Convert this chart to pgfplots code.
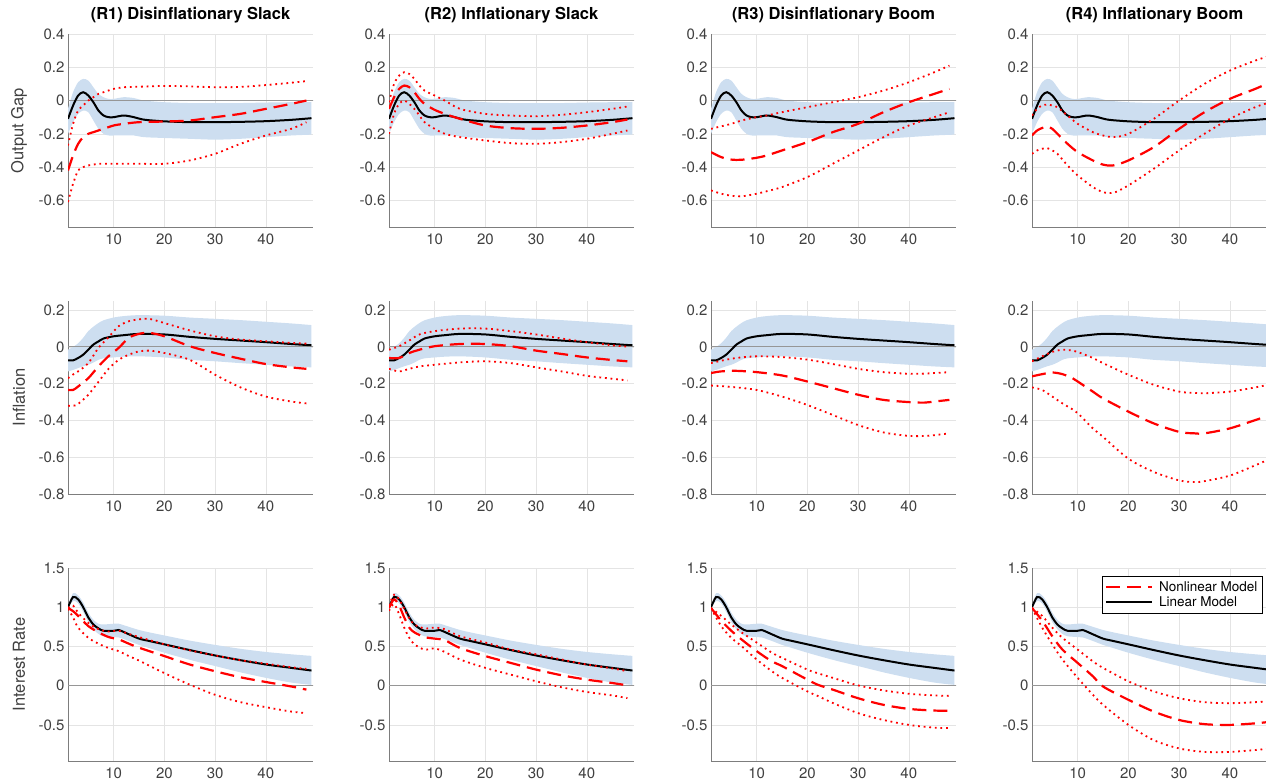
\documentclass[border=0pt]{standalone}
\usepackage{pgfplots}
\pgfplotsset{compat=1.18}
\usepackage{pgfplotstable}
\usepgfplotslibrary{fillbetween}
\usepackage{fontspec}
\setmainfont{TeX Gyre Heros}
\definecolor{bandblue}{RGB}{205,222,240}
\definecolor{tickgray}{RGB}{64,64,64}
\definecolor{axgray}{RGB}{125,125,125}
\definecolor{gridgray}{RGB}{228,228,228}
\definecolor{zerogray}{RGB}{150,150,150}

% ---------- linear model (same in every column) ----------
\pgfplotstableread{
x mid up lo
1 -0.11 -0.05 -0.20
2 -0.03 0.05 -0.13
3 0.03 0.11 -0.08
4 0.05 0.13 -0.06
5 0.03 0.12 -0.07
6 -0.01 0.08 -0.12
7 -0.06 0.04 -0.17
8 -0.09 0.02 -0.20
9 -0.10 0.01 -0.21
10 -0.10 0.01 -0.21
12 -0.09 0.02 -0.21
14 -0.10 0.015 -0.21
16 -0.115 0.0 -0.22
20 -0.125 -0.01 -0.225
25 -0.13 -0.015 -0.23
30 -0.13 -0.015 -0.235
35 -0.128 -0.015 -0.23
40 -0.124 -0.012 -0.22
45 -0.116 -0.01 -0.21
49 -0.106 -0.01 -0.205
}\linA
\pgfplotstableread{
x mid up lo
1 -0.073 -0.015 -0.133
2 -0.073 0.0 -0.125
3 -0.06 0.02 -0.115
4 -0.042 0.05 -0.105
5 -0.015 0.086 -0.097
6 0.013 0.11 -0.085
7 0.03 0.13 -0.07
8 0.046 0.145 -0.062
10 0.058 0.16 -0.057
12 0.064 0.168 -0.053
15 0.071 0.173 -0.051
20 0.068 0.17 -0.057
25 0.055 0.16 -0.07
30 0.044 0.153 -0.078
35 0.035 0.146 -0.088
40 0.026 0.137 -0.097
45 0.016 0.128 -0.106
49 0.009 0.119 -0.111
}\linB
\pgfplotstableread{
x mid up lo
1 1.00 1.02 0.98
2 1.13 1.18 1.08
3 1.10 1.15 1.05
4 1.00 1.06 0.94
5 0.87 0.93 0.81
6 0.78 0.84 0.72
7 0.73 0.79 0.66
8 0.70 0.78 0.63
10 0.70 0.79 0.62
11 0.71 0.79 0.615
13 0.655 0.75 0.57
15 0.60 0.71 0.52
17 0.57 0.68 0.48
20 0.527 0.64 0.42
25 0.454 0.575 0.33
30 0.385 0.52 0.25
35 0.325 0.47 0.17
40 0.27 0.43 0.10
45 0.227 0.40 0.04
49 0.193 0.38 0.01
}\linC

% ---------- nonlinear model: output gap ----------
\pgfplotstableread{
x dash up lo
1 -0.42 -0.27 -0.61
2 -0.33 -0.14 -0.50
3 -0.26 -0.06 -0.42
4 -0.22 -0.03 -0.40
5 -0.20 0.00 -0.39
6 -0.19 0.02 -0.385
7 -0.18 0.04 -0.38
8 -0.17 0.05 -0.38
10 -0.15 0.07 -0.38
12 -0.14 0.08 -0.38
15 -0.13 0.083 -0.38
20 -0.126 0.088 -0.38
25 -0.12 0.085 -0.36
30 -0.10 0.08 -0.32
35 -0.08 0.082 -0.26
40 -0.05 0.093 -0.21
45 -0.02 0.107 -0.17
48 0.0 0.117 -0.13
}\ogA
\pgfplotstableread{
x dash up lo
1 -0.05 -0.01 -0.20
2 0.02 0.10 -0.08
3 0.07 0.15 -0.02
4 0.09 0.17 0.0
5 0.08 0.16 -0.02
6 0.05 0.13 -0.05
7 0.01 0.09 -0.09
8 -0.02 0.06 -0.13
10 -0.056 0.03 -0.17
12 -0.08 0.0 -0.20
15 -0.11 -0.05 -0.22
20 -0.15 -0.08 -0.24
25 -0.166 -0.09 -0.256
30 -0.17 -0.094 -0.26
35 -0.164 -0.086 -0.25
40 -0.15 -0.07 -0.23
45 -0.13 -0.05 -0.20
48 -0.114 -0.036 -0.18
}\ogB
\pgfplotstableread{
x dash up lo
1 -0.31 -0.17 -0.54
3 -0.34 -0.155 -0.56
5 -0.355 -0.14 -0.572
7 -0.356 -0.12 -0.576
10 -0.344 -0.10 -0.56
12 -0.33 -0.09 -0.545
15 -0.30 -0.07 -0.52
20 -0.25 -0.04 -0.46
25 -0.19 -0.01 -0.38
30 -0.14 0.02 -0.30
35 -0.07 0.06 -0.22
40 -0.01 0.11 -0.15
45 0.04 0.17 -0.10
48 0.07 0.21 -0.07
}\ogC
\pgfplotstableread{
x dash up lo
1 -0.21 -0.09 -0.32
2 -0.18 -0.05 -0.30
3 -0.165 -0.03 -0.29
4 -0.156 -0.024 -0.286
5 -0.17 -0.03 -0.30
6 -0.20 -0.04 -0.32
8 -0.26 -0.09 -0.39
10 -0.31 -0.14 -0.45
13 -0.36 -0.19 -0.52
15 -0.385 -0.21 -0.55
17 -0.39 -0.22 -0.555
20 -0.36 -0.20 -0.51
25 -0.28 -0.11 -0.41
30 -0.17 0.0 -0.30
35 -0.07 0.10 -0.20
40 0.01 0.18 -0.11
45 0.07 0.24 -0.04
48 0.11 0.27 -0.01
}\ogD

% ---------- nonlinear model: inflation ----------
\pgfplotstableread{
x dash up lo
1 -0.234 -0.17 -0.32
2 -0.234 -0.15 -0.32
3 -0.215 -0.133 -0.31
5 -0.17 -0.088 -0.26
7 -0.106 -0.005 -0.19
9 -0.05 0.053 -0.119
11 -0.005 0.113 -0.07
13 0.05 0.14 -0.042
15 0.071 0.15 -0.024
17 0.077 0.153 -0.02
20 0.058 0.13 -0.033
25 0.004 0.09 -0.07
30 -0.033 0.058 -0.151
35 -0.064 0.04 -0.22
40 -0.093 0.031 -0.27
45 -0.111 0.022 -0.297
48 -0.119 0.018 -0.307
}\inA
\pgfplotstableread{
x dash up lo
1 -0.06 -0.015 -0.119
3 -0.06 0.004 -0.133
5 -0.033 0.035 -0.119
7 -0.015 0.068 -0.106
10 0.004 0.086 -0.097
15 0.016 0.10 -0.084
20 0.016 0.10 -0.078
25 0.004 0.086 -0.088
30 -0.02 0.068 -0.111
35 -0.038 0.046 -0.133
40 -0.057 0.026 -0.157
45 -0.071 0.009 -0.173
48 -0.078 0.002 -0.182
}\inB
\pgfplotstableread{
x dash up lo
1 -0.142 -0.088 -0.21
3 -0.133 -0.075 -0.213
6 -0.13 -0.06 -0.22
10 -0.137 -0.051 -0.234
15 -0.155 -0.055 -0.27
20 -0.188 -0.069 -0.316
25 -0.224 -0.093 -0.37
30 -0.26 -0.119 -0.425
35 -0.288 -0.137 -0.465
40 -0.30 -0.146 -0.484
43 -0.303 -0.145 -0.484
45 -0.297 -0.142 -0.48
48 -0.288 -0.137 -0.47
}\inC
\pgfplotstableread{
x dash up lo
1 -0.16 -0.078 -0.22
3 -0.148 -0.051 -0.234
5 -0.139 -0.027 -0.27
7 -0.148 -0.015 -0.307
9 -0.17 -0.02 -0.34
10 -0.188 -0.027 -0.36
13 -0.243 -0.06 -0.443
15 -0.28 -0.088 -0.489
20 -0.352 -0.151 -0.608
25 -0.416 -0.206 -0.68
30 -0.462 -0.243 -0.726
33 -0.47 -0.25 -0.735
35 -0.47 -0.252 -0.73
40 -0.443 -0.243 -0.70
45 -0.398 -0.22 -0.644
48 -0.37 -0.203 -0.608
}\inD

% ---------- nonlinear model: interest rate ----------
\pgfplotstableread{
x dash up lo
1 0.99 0.99 0.98
2 0.95 1.02 0.87
3 0.89 0.93 0.74
5 0.76 0.80 0.61
7 0.68 0.72 0.535
9 0.62 0.69 0.48
11 0.59 0.70 0.44
13 0.535 0.66 0.377
15 0.484 0.62 0.32
20 0.377 0.527 0.16
25 0.27 0.45 0.013
30 0.184 0.385 -0.116
35 0.107 0.325 -0.21
40 0.047 0.28 -0.274
45 -0.01 0.235 -0.33
48 -0.05 0.214 -0.35
}\irA
\pgfplotstableread{
x dash up lo
1 0.99 1.02 0.955
2 1.10 1.16 1.04
3 1.02 1.10 0.91
4 0.87 0.98 0.74
5 0.74 0.86 0.61
6 0.68 0.78 0.527
8 0.62 0.73 0.46
10 0.60 0.74 0.475
12 0.58 0.72 0.43
15 0.48 0.63 0.334
20 0.377 0.55 0.227
25 0.29 0.46 0.141
30 0.205 0.40 0.056
35 0.133 0.334 -0.02
40 0.077 0.27 -0.08
45 0.034 0.22 -0.124
48 0.004 0.184 -0.158
}\irB
\pgfplotstableread{
x dash up lo
1 0.99 0.99 0.99
3 0.83 0.89 0.76
5 0.70 0.78 0.61
7 0.59 0.68 0.505
10 0.44 0.55 0.334
13 0.31 0.42 0.184
15 0.25 0.355 0.10
20 0.077 0.205 -0.073
22 0.013 0.16 -0.13
25 -0.05 0.10 -0.22
30 -0.16 0.004 -0.35
35 -0.244 -0.06 -0.437
40 -0.296 -0.103 -0.50
45 -0.317 -0.124 -0.535
48 -0.32 -0.13 -0.54
}\irC
\pgfplotstableread{
x dash up lo
1 0.99 0.99 0.99
3 0.83 0.89 0.74
5 0.63 0.74 0.527
7 0.46 0.61 0.334
10 0.29 0.46 0.10
13 0.12 0.31 -0.116
15 -0.01 0.227 -0.244
20 -0.18 0.056 -0.50
25 -0.33 -0.073 -0.694
30 -0.437 -0.16 -0.80
35 -0.49 -0.21 -0.844
40 -0.50 -0.223 -0.844
45 -0.48 -0.21 -0.82
48 -0.46 -0.20 -0.80
}\irD

\pgfplotsset{
  irf/.style={
    width=245pt, height=193pt, scale only axis,
    xmin=1, xmax=49.3,
    axis lines=left,
    axis line style={-, draw=axgray, line width=0.8pt},
    grid=major, grid style={draw=gridgray, line width=0.6pt},
    xtick={10,20,30,40},
    major tick length=0pt,
    /pgf/number format/assume math mode=true,
    ticklabel style={font=\fontsize{15}{15}\selectfont, text=tickgray},
    xticklabel style={yshift=-3pt},
    title style={font=\bfseries\fontsize{16.5}{18}\selectfont, at={(0.5,1)}, anchor=base, yshift=8pt},
    ylabel style={font=\fontsize{16.5}{18}\selectfont, text=tickgray, at={(axis description cs:-0.2,0.5)}, anchor=center},
    legend image code/.code={\draw[##1] (0pt,0pt) -- (46pt,0pt); \path (50pt,0pt);},
  },
  rowA/.style={irf, ymin=-0.76, ymax=0.4, ytick={-0.6,-0.4,-0.2,0,0.2,0.4}},
  rowB/.style={irf, ymin=-0.8, ymax=0.25, ytick={-0.8,-0.6,-0.4,-0.2,0,0.2}},
  rowC/.style={irf, ymin=-0.96, ymax=1.5, ytick={-0.5,0,0.5,1,1.5}},
  lin/.style={black, line width=2pt},
  nl/.style={red, line width=2.2pt, dash pattern=on 14pt off 7pt},
  nlb/.style={red, line width=1.8pt, line cap=butt, dash pattern=on 1.8pt off 3.8pt},
}

\newcommand{\panel}[2]{%
  \addplot[name path=u, draw=none, forget plot, smooth] table[x=x, y=up]{#1};
  \addplot[name path=l, draw=none, forget plot, smooth] table[x=x, y=lo]{#1};
  \addplot[fill=bandblue, draw=none, forget plot] fill between[of=u and l];
  \addplot[draw=zerogray, line width=1pt, forget plot] coordinates {(1,0) (50,0)};
  \addplot[lin, smooth, forget plot] table[x=x, y=mid]{#1};
  \addplot[nlb, smooth, forget plot] table[x=x, y=up]{#2};
  \addplot[nlb, smooth, forget plot] table[x=x, y=lo]{#2};
  \addplot[nl, smooth, forget plot] table[x=x, y=dash]{#2};
}

\begin{document}
\begin{tikzpicture}
% Row 1: output gap
\begin{axis}[rowA, at={(68pt,555pt)}, anchor=south west, title={(R1) Disinflationary Slack}, ylabel={Output Gap}]
\panel{\linA}{\ogA}
\end{axis}
\begin{axis}[rowA, at={(389pt,555pt)}, anchor=south west, title={(R2) Inflationary Slack}]
\panel{\linA}{\ogB}
\end{axis}
\begin{axis}[rowA, at={(711pt,555pt)}, anchor=south west, title={(R3) Disinflationary Boom}]
\panel{\linA}{\ogC}
\end{axis}
\begin{axis}[rowA, at={(1032pt,555pt)}, anchor=south west, title={(R4) Inflationary Boom}]
\panel{\linA}{\ogD}
\end{axis}
% Row 2: inflation
\begin{axis}[rowB, at={(68pt,288pt)}, anchor=south west, ylabel={Inflation}]
\panel{\linB}{\inA}
\end{axis}
\begin{axis}[rowB, at={(389pt,288pt)}, anchor=south west]
\panel{\linB}{\inB}
\end{axis}
\begin{axis}[rowB, at={(711pt,288pt)}, anchor=south west]
\panel{\linB}{\inC}
\end{axis}
\begin{axis}[rowB, at={(1032pt,288pt)}, anchor=south west]
\panel{\linB}{\inD}
\end{axis}
% Row 3: interest rate
\begin{axis}[rowC, at={(68pt,21pt)}, anchor=south west, ylabel={Interest Rate}]
\panel{\linC}{\irA}
\end{axis}
\begin{axis}[rowC, at={(389pt,21pt)}, anchor=south west]
\panel{\linC}{\irB}
\end{axis}
\begin{axis}[rowC, at={(711pt,21pt)}, anchor=south west]
\panel{\linC}{\irC}
\end{axis}
\begin{axis}[rowC, at={(1032pt,21pt)}, anchor=south west,
  legend style={at={(axis description cs:0.284,0.958)}, anchor=north west, draw=black, line width=0.6pt, fill=white,
    font=\fontsize{13.5}{16}\selectfont, inner xsep=3pt, inner ysep=3pt, cells={anchor=west}}]
\panel{\linC}{\irD}
\addlegendimage{nl}
\addlegendentry{Nonlinear Model}
\addlegendimage{lin}
\addlegendentry{Linear Model}
\end{axis}
\pgfresetboundingbox
\path[use as bounding box] (0pt,0pt) rectangle (1266pt,782pt);
\end{tikzpicture}
\end{document}
